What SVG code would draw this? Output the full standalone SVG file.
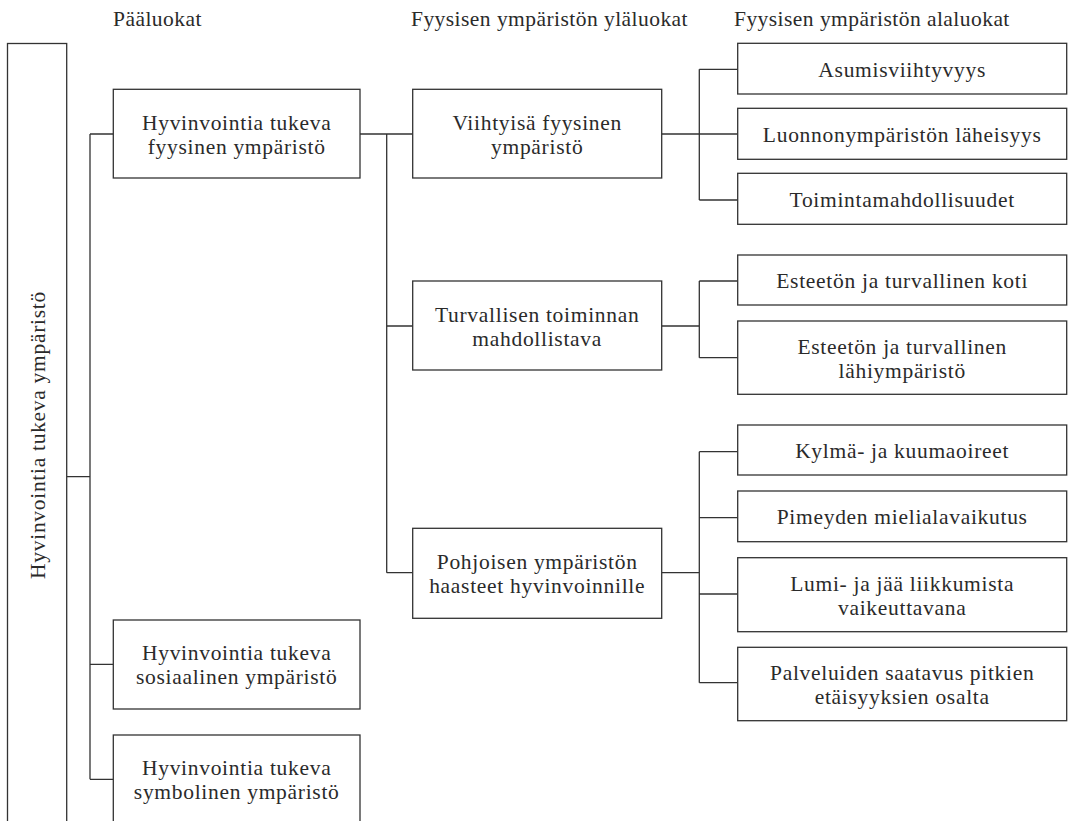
<svg xmlns="http://www.w3.org/2000/svg" width="1069" height="821" viewBox="0 0 1069 821">
<style>
.box{fill:#fff;stroke:#333;stroke-width:1.3}
.c{fill:none;stroke:#333;stroke-width:1.3}
text{font-family:"Liberation Serif","Times New Roman",serif;font-size:21.5px;fill:#2a2a2a;letter-spacing:0.7px}
.h{letter-spacing:0.45px}
.m{text-anchor:middle}
</style>
<rect width="1069" height="821" fill="#fff"/>
<g id="headers">
<text class="h" x="113" y="26">Pääluokat</text>
<text class="h" x="411" y="26">Fyysisen ympäristön yläluokat</text>
<text class="h" x="734" y="26">Fyysisen ympäristön alaluokat</text>
</g>
<g id="connectors" class="c">
<path d="M66.7,476.7H90M90,134V779.3M90,134H113.3M90,664.3H113.3M90,779.3H113.3"/>
<path d="M360,134H412.7M386.7,134V572.7M386.7,326H412.7M386.7,572.7H412.7"/>
<path d="M661.7,134H699.3M699.3,69.3V200M699.3,69.3H737.7M699.3,134H737.7M699.3,200H737.7"/>
<path d="M661.7,326H699.3M699.3,281V357.7M699.3,281H737.7M699.3,357.7H737.7"/>
<path d="M661.7,572.7H699.3M699.3,451.7V682.7M699.3,451.7H737.7M699.3,517.7H737.7M699.3,594H737.7M699.3,682.7H737.7"/>
</g>
<g id="root">
<rect class="box" x="7.5" y="43.5" width="59.2" height="790"/>
<text class="m" transform="translate(45,435) rotate(-90)">Hyvinvointia tukeva ympäristö</text>
</g>
<g id="main-fyysinen">
<rect class="box" x="113.3" y="89.3" width="246.7" height="88.7"/>
<text class="m" x="236.7" y="129.7">Hyvinvointia tukeva</text>
<text class="m" x="236.7" y="153.7">fyysinen ympäristö</text>
</g>
<g id="main-sosiaalinen">
<rect class="box" x="113.3" y="620" width="246.7" height="89"/>
<text class="m" x="236.7" y="660.3">Hyvinvointia tukeva</text>
<text class="m" x="236.7" y="684.3">sosiaalinen ympäristö</text>
</g>
<g id="main-symbolinen">
<rect class="box" x="113.3" y="735" width="246.7" height="100"/>
<text class="m" x="236.7" y="775.3">Hyvinvointia tukeva</text>
<text class="m" x="236.7" y="799.3">symbolinen ympäristö</text>
</g>
<g id="ylä-viihtyisa">
<rect class="box" x="412.7" y="89.3" width="249" height="88.7"/>
<text class="m" x="537.2" y="129.7">Viihtyisä fyysinen</text>
<text class="m" x="537.2" y="153.7">ympäristö</text>
</g>
<g id="ylä-turvallisen">
<rect class="box" x="412.7" y="281" width="249" height="89"/>
<text class="m" x="537.2" y="322">Turvallisen toiminnan</text>
<text class="m" x="537.2" y="346">mahdollistava</text>
</g>
<g id="ylä-pohjoisen">
<rect class="box" x="412.7" y="528.3" width="249" height="90"/>
<text class="m" x="537.2" y="569">Pohjoisen ympäristön</text>
<text class="m" x="537.2" y="593">haasteet hyvinvoinnille</text>
</g>
<g id="ala-asumis">
<rect class="box" x="737.7" y="43.3" width="329" height="50.7"/>
<text class="m" x="902.2" y="76.7">Asumisviihtyvyys</text>
</g>
<g id="ala-luonnon">
<rect class="box" x="737.7" y="108.3" width="329" height="51"/>
<text class="m" x="902.2" y="141.8">Luonnonympäristön läheisyys</text>
</g>
<g id="ala-toiminta">
<rect class="box" x="737.7" y="173.3" width="329" height="51"/>
<text class="m" x="902.2" y="206.8">Toimintamahdollisuudet</text>
</g>
<g id="ala-koti">
<rect class="box" x="737.7" y="255" width="329" height="50"/>
<text class="m" x="902.2" y="288">Esteetön ja turvallinen koti</text>
</g>
<g id="ala-lahiymparisto">
<rect class="box" x="737.7" y="321" width="329" height="73.3"/>
<text class="m" x="902.2" y="353.7">Esteetön ja turvallinen</text>
<text class="m" x="902.2" y="377.7">lähiympäristö</text>
</g>
<g id="ala-kylma">
<rect class="box" x="737.7" y="425" width="329" height="50"/>
<text class="m" x="902.2" y="458">Kylmä- ja kuumaoireet</text>
</g>
<g id="ala-pimeyden">
<rect class="box" x="737.7" y="491" width="329" height="50.7"/>
<text class="m" x="902.2" y="524.4">Pimeyden mielialavaikutus</text>
</g>
<g id="ala-lumi">
<rect class="box" x="737.7" y="557.7" width="329" height="74"/>
<text class="m" x="902.2" y="590.7">Lumi- ja jää liikkumista</text>
<text class="m" x="902.2" y="614.7">vaikeuttavana</text>
</g>
<g id="ala-palveluiden">
<rect class="box" x="737.7" y="647.3" width="329" height="73.4"/>
<text class="m" x="902.2" y="680">Palveluiden saatavus pitkien</text>
<text class="m" x="902.2" y="704">etäisyyksien osalta</text>
</g>
</svg>
